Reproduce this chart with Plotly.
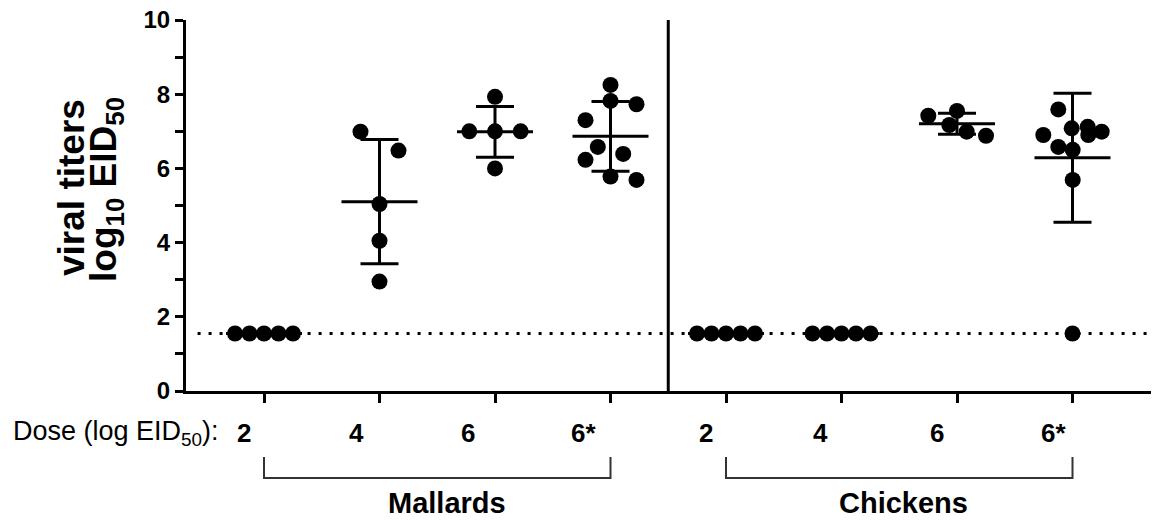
import numpy as np
import plotly.graph_objects as go

# ---------------- data ----------------
dose_labels = ["2", "4", "6", "6*"]
species = ["Mallards", "Chickens"]
detect_limit = 1.55

mallard_2 = [1.55, 1.55, 1.55, 1.55, 1.55]
mallard_4 = [6.99, 6.48, 5.04, 4.05, 2.95]
mallard_6 = [7.93, 7.00, 7.00, 7.00, 6.00]
mallard_6s = [8.25, 7.82, 7.73, 7.30, 6.58, 6.39, 6.23, 5.78, 5.69]
chicken_2 = [1.55, 1.55, 1.55, 1.55, 1.55]
chicken_4 = [1.55, 1.55, 1.55, 1.55, 1.55]
chicken_6 = [7.42, 7.55, 7.17, 6.99, 6.88]
chicken_6s = [7.59, 7.08, 7.12, 6.90, 6.99, 6.90, 6.58, 6.50, 5.69, 1.55]

# horizontal scatter spread of dots within a column (pixels)
spread_m2 = [-29, -14.5, 0, 14.5, 29]
spread_m4 = [-19, 19, 0, 0, 0]
spread_m6 = [0, -25.7, 0, 25.7, 0]
spread_m6s = [0, 0, 26, -25, -12.7, 12.7, -25, 0, 26]
spread_c2 = [-29, -14.5, 0, 14.5, 29]
spread_c4 = [-29, -14.5, 0, 14.5, 29]
spread_c6 = [-28.7, 0, -7.7, 9.7, 29]
spread_c6s = [-14.2, -0.8, 15.2, 15.8, 29.2, -29.2, -14.2, 0.2, 0.2, 0]

groups = [mallard_2, mallard_4, mallard_6, mallard_6s,
          chicken_2, chicken_4, chicken_6, chicken_6s]
spreads = [spread_m2, spread_m4, spread_m6, spread_m6s,
           spread_c2, spread_c4, spread_c6, spread_c6s]

# ---------------- geometry ----------------
W, H = 1155, 523
ML, MR, MT, MB = 186, 4, 20, 132
PX_PER_COL = 115.5
X0 = -78 / PX_PER_COL
X1 = X0 + (W - ML - MR) / PX_PER_COL


def px2paper_x(px):
    return (px - ML) / (W - ML - MR)


def px2paper_y(py):
    return (H - MB - py) / (H - MT - MB)


fig = go.Figure()

xs_all, ys_all = [], []
shapes = []
for i, (vals, spr) in enumerate(zip(groups, spreads)):
    xs = [i + s / PX_PER_COL for s in spr]
    xs_all += xs
    ys_all += vals
    m = float(np.mean(vals))
    sd = float(np.std(vals, ddof=1))
    lw = 3
    shapes.append(dict(type="line", xref="x", yref="y", x0=i - 38 / PX_PER_COL,
                       x1=i + 38 / PX_PER_COL, y0=m, y1=m,
                       line=dict(color="black", width=lw)))
    if sd > 0:
        shapes.append(dict(type="line", xref="x", yref="y", x0=i, x1=i,
                           y0=m - sd, y1=m + sd, line=dict(color="black", width=lw)))
        for yy in (m - sd, m + sd):
            shapes.append(dict(type="line", xref="x", yref="y", x0=i - 19 / PX_PER_COL,
                               x1=i + 19 / PX_PER_COL, y0=yy, y1=yy,
                               line=dict(color="black", width=lw)))

fig.add_trace(go.Scatter(x=xs_all, y=ys_all, mode="markers",
                         marker=dict(color="black", size=16, line=dict(width=0)),
                         showlegend=False, hoverinfo="y"))

shapes.append(dict(type="line", xref="paper", yref="y", x0=0.012, x1=1, y0=detect_limit,
                   y1=detect_limit, layer="below",
                   line=dict(color="black", width=3, dash="3px,8px")))
shapes.append(dict(type="line", xref="x", yref="y", x0=3.5, x1=3.5, y0=0, y1=10.1,
                   line=dict(color="black", width=3)))

bracket_y0, bracket_y1 = 457, 478
for a, b in [(0, 3), (4, 7)]:
    xa = px2paper_x(264 + a * PX_PER_COL)
    xb = px2paper_x(264 + b * PX_PER_COL)
    ya = px2paper_y(bracket_y0)
    yb = px2paper_y(bracket_y1)
    shapes.append(dict(type="path", xref="paper", yref="paper",
                       path=f"M {xa} {ya} L {xa} {yb} L {xb} {yb} L {xb} {ya}",
                       line=dict(color="#333333", width=2)))

annotations = []
bold = "Liberation Sans, Arial, sans-serif"
annotations.append(dict(text="viral titers", x=px2paper_x(71), y=px2paper_y(188),
                        xref="paper", yref="paper", textangle=-90, showarrow=False,
                        font=dict(family=bold, size=37, color="black", weight="bold"),
                        xanchor="center", yanchor="middle"))
annotations.append(dict(text="log<sub>10</sub> EID<sub>50</sub>", x=px2paper_x(106),
                        y=px2paper_y(190), xref="paper", yref="paper", textangle=-90,
                        showarrow=False,
                        font=dict(family=bold, size=37, color="black", weight="bold"),
                        xanchor="center", yanchor="middle"))
annotations.append(dict(text="Dose (log EID<sub>50</sub>):", x=px2paper_x(11),
                        y=px2paper_y(433), xref="paper", yref="paper", showarrow=False,
                        font=dict(family="Liberation Sans, Arial", size=27, color="black"),
                        xanchor="left", yanchor="middle"))
label_px = [244, 356, 468, 583, 706, 820, 937, 1053]
for k, px in enumerate(label_px):
    annotations.append(dict(text=dose_labels[k % 4], x=px2paper_x(px), y=px2paper_y(433),
                            xref="paper", yref="paper", showarrow=False,
                            font=dict(family=bold, size=26, color="black", weight="bold"),
                            xanchor="center", yanchor="middle"))
for name, px in zip(species, [447, 903]):
    annotations.append(dict(text=name, x=px2paper_x(px), y=px2paper_y(503),
                            xref="paper", yref="paper", showarrow=False,
                            font=dict(family=bold, size=29, color="black", weight="bold"),
                            xanchor="center", yanchor="middle"))

fig.update_layout(
    width=W, height=H,
    margin=dict(l=ML, r=MR, t=MT, b=MB),
    paper_bgcolor="white", plot_bgcolor="white",
    shapes=shapes, annotations=annotations,
    xaxis=dict(range=[X0, X1], showgrid=False, zeroline=False,
               tickvals=list(range(8)), showticklabels=False,
               ticks="outside", ticklen=9, tickwidth=2.5, tickcolor="black",
               showline=True, linecolor="black", linewidth=3),
    yaxis=dict(range=[0, 10], showgrid=False, zeroline=False,
               tickvals=[0, 2, 4, 6, 8, 10], ticks="outside", ticklen=8,
               tickwidth=3, tickcolor="black",
               minor=dict(tickvals=[1, 3, 5, 7, 9], ticks="outside", ticklen=8,
                          tickwidth=3, tickcolor="black"),
               tickfont=dict(family=bold, size=24, color="black", weight="bold"),
               showline=True, linecolor="black", linewidth=3),
)

fig.write_html("out.html")
